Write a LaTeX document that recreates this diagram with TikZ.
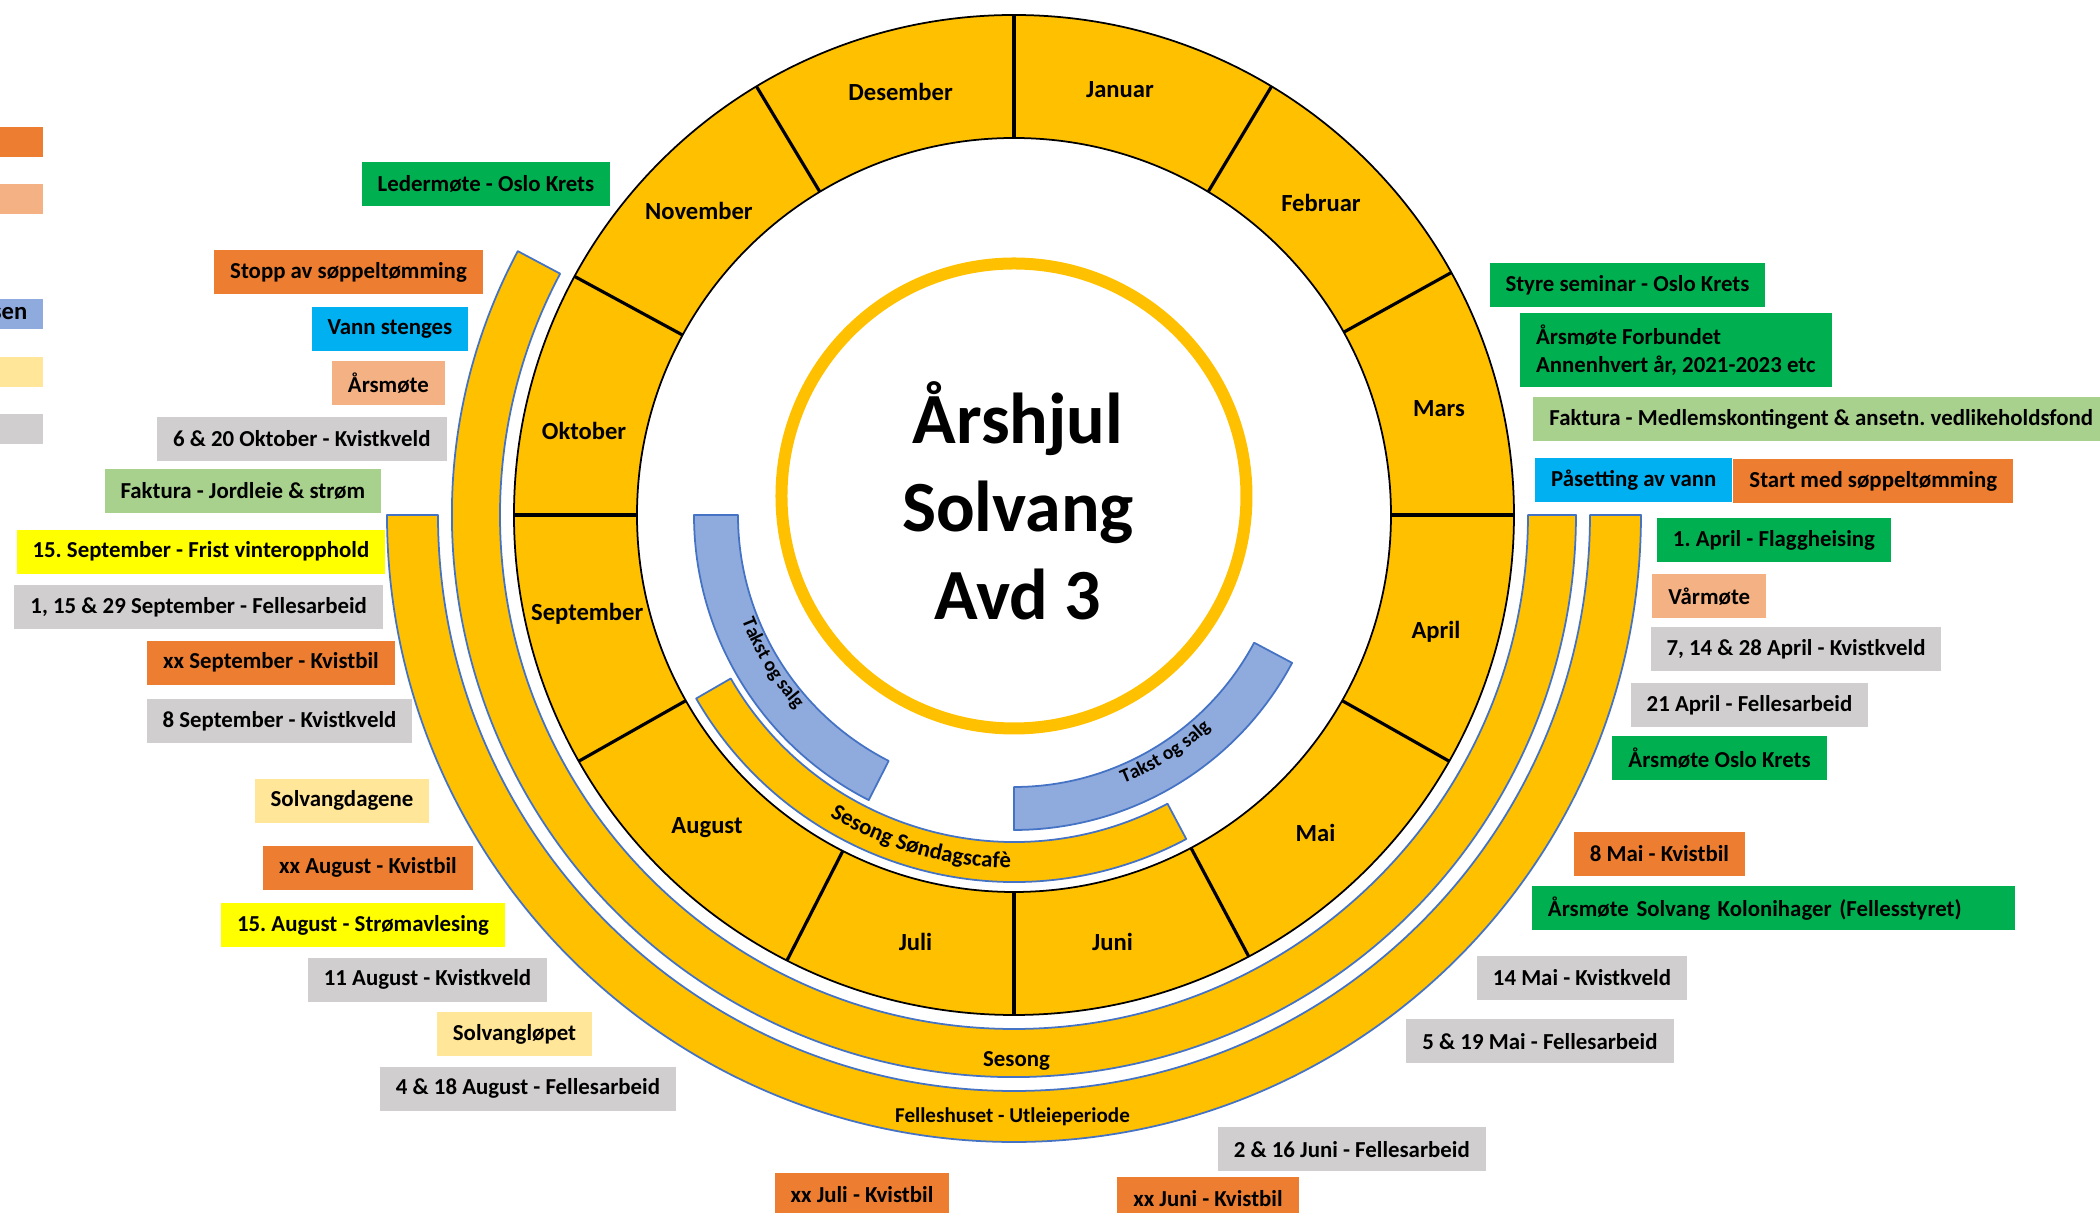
\documentclass[tikz,border=0pt]{standalone}
\usepackage{fontspec}
\setmainfont{Carlito}
\usetikzlibrary{decorations.text}
\definecolor{WheelGold}{HTML}{FFC000}
\definecolor{BandBlue}{HTML}{8FAADC}
\definecolor{BandEdge}{HTML}{4472C4}
\definecolor{EvGreen}{HTML}{00B050}
\definecolor{EvOrange}{HTML}{ED7D31}
\definecolor{EvPeach}{HTML}{F4B183}
\definecolor{EvCyan}{HTML}{00B0F0}
\definecolor{EvLime}{HTML}{A9D18E}
\definecolor{EvYellow}{HTML}{FFFF00}
\definecolor{EvGray}{HTML}{D0CECE}
\definecolor{EvCream}{HTML}{FFE699}
\frenchspacing

\begin{document}
\begin{tikzpicture}[line join=round,
  evt/.style={font=\fontsize{6.5}{8.2}\selectfont\bfseries,inner xsep=0.16cm,inner ysep=0pt,minimum height=0.44cm},
  month/.style={font=\fontsize{7}{8}\selectfont\bfseries},
  band/.style={fill=WheelGold,draw=BandEdge,line width=0.5pt},
  takst/.style={fill=BandBlue,draw=BandEdge,line width=0.5pt},
  arctext/.style={decorate,decoration={text along path,text align=center,#1}}]
  \clip (-10.14,-6.98) rectangle (10.86,5.15);
  % legend, cut at the left edge
  \fill[EvOrange] (-10.3,3.58) rectangle (-9.71,3.88);
  \fill[EvPeach] (-10.3,3.01) rectangle (-9.71,3.31);
  \fill[BandBlue] (-10.3,1.86) rectangle (-9.71,2.16);
  \fill[EvCream] (-10.3,1.28) rectangle (-9.71,1.58);
  \fill[EvGray] (-10.3,0.71) rectangle (-9.71,1.01);
  \node[font=\fontsize{7}{8}\selectfont\bfseries,anchor=east,inner sep=0pt] (legsen) at (-9.86,2.01) {sen};
  % outer periods
  \draw[band] (180:6.27) arc[start angle=180,end angle=360,radius=6.27] -- (0:5.76) arc[start angle=360,end angle=180,radius=5.76] -- cycle;
  \draw[band] (152:5.62) arc[start angle=152,end angle=360,radius=5.62] -- (0:5.14) arc[start angle=360,end angle=152,radius=5.14] -- cycle;
  \node[font=\fontsize{6.5}{8}\selectfont\bfseries] (sesong) at (0.025,-5.46) {Sesong};
  \node[font=\fontsize{6}{7}\selectfont\bfseries] (felles) at (-0.015,-6.02) {Felleshuset - Utleieperiode};
  % month ring
  \draw[fill=WheelGold,even odd rule,line width=0.5pt] (0,0) circle (5.0) (0,0) circle (3.77);
  \foreach \a in {90,59,29,0,-29.5,-62,-90,-117,-150.5,180,151.5,121}
    \draw[line width=0.9pt] (\a:3.77) -- (\a:5.0);
  \foreach \m/\a in {Januar/76,Februar/45.5,Mars/14,April/-15.5,Mai/-46.5,Juni/-77,Juli/-103,August/-134.5,September/-167,Oktober/169,November/136,Desember/105}
    \node[month] (\m) at (\a:4.38) {\m};
  % inner periods
  \draw[band] (210:3.67) arc[start angle=210,end angle=298,radius=3.67] -- (298:3.27) arc[start angle=298,end angle=210,radius=3.27] -- cycle;
  \path[arctext={text={|\fontsize{6.5}{8}\selectfont\bfseries|Sesong Søndagscafè}}] (210:3.53) arc[start angle=210,end angle=298,radius=3.53];
  \draw[takst] (180:3.2) arc[start angle=180,end angle=243,radius=3.2] -- (243:2.76) arc[start angle=243,end angle=180,radius=2.76] -- cycle;
  \draw[takst] (-90:3.15) arc[start angle=-90,end angle=-28,radius=3.15] -- (-28:2.72) arc[start angle=-28,end angle=-90,radius=2.72] -- cycle;
  \path[arctext={text={|\fontsize{5.6}{6}\selectfont\bfseries|Takst og salg}}] (180:2.92) arc[start angle=180,end angle=243,radius=2.92];
  \path[arctext={text={|\fontsize{5.6}{6}\selectfont\bfseries|Takst og salg}}] (-90:2.9) arc[start angle=-90,end angle=-25,radius=2.9];
  % centre
  \draw[WheelGold,line width=0.12cm] (0,0.19) circle (2.325);
  \node[font=\fontsize{20.5}{25}\selectfont\bfseries,align=center] (title) at (0.04,0.14) {Årshjul\\Solvang\\Avd 3};
  % autumn side
  \node[evt,fill=EvGreen] (led) at (-5.28,3.31) {Ledermøte - Oslo Krets};
  \node[evt,fill=EvOrange] (stopp) at (-6.655,2.43) {Stopp av søppeltømming};
  \node[evt,fill=EvCyan] (vann) at (-6.24,1.855) {Vann stenges};
  \node[evt,fill=EvPeach] (arsm) at (-6.256,1.32) {Årsmøte};
  \node[evt,fill=EvGray] (okt6) at (-7.122,0.762) {6 \& 20 Oktober - Kvistkveld};
  \node[evt,fill=EvLime] (jord) at (-7.711,0.242) {Faktura - Jordleie \& strøm};
  \node[evt,fill=EvYellow] (sep15) at (-8.131,-0.366) {15. September - Frist vinteropphold};
  \node[evt,fill=EvGray] (sep1) at (-8.153,-0.925) {1, 15 \& 29 September - Fellesarbeid};
  \node[evt,fill=EvOrange] (sepkb) at (-7.43,-1.477) {xx September - Kvistbil};
  \node[evt,fill=EvGray] (sep8) at (-7.345,-2.06) {8 September - Kvistkveld};
  \node[evt,fill=EvCream] (sdag) at (-6.72,-2.857) {Solvangdagene};
  \node[evt,fill=EvOrange] (augkb) at (-6.46,-3.527) {xx August - Kvistbil};
  \node[evt,fill=EvYellow] (aug15) at (-6.51,-4.104) {15. August - Strømavlesing};
  \node[evt,fill=EvGray] (aug11) at (-5.865,-4.648) {11 August - Kvistkveld};
  \node[evt,fill=EvCream] (sloep) at (-4.995,-5.193) {Solvangløpet};
  \node[evt,fill=EvGray] (aug4) at (-4.86,-5.736) {4 \& 18 August - Fellesarbeid};
  \node[evt,fill=EvOrange] (julkb) at (-1.52,-6.80) {xx Juli - Kvistbil};
  % spring side
  \node[evt,fill=EvGreen] (styre) at (6.135,2.295) {Styre seminar - Oslo Krets};
  \node[evt,fill=EvGreen,align=left,minimum height=0.735cm] (forb) at (6.618,1.648) {Årsmøte Forbundet\\Annenhvert år, 2021-2023 etc};
  \node[evt,fill=EvLime,anchor=west] (kont) at (5.188,0.96) {Faktura - Medlemskontingent \& ansetn. vedlikeholdsfond};
  \node[evt,fill=EvCyan] (paas) at (6.198,0.352) {Påsetting av vann};
  \node[evt,fill=EvOrange] (startsop) at (8.593,0.338) {Start med søppeltømming};
  \node[evt,fill=EvGreen] (flagg) at (7.60,-0.254) {1. April - Flaggheising};
  \node[evt,fill=EvPeach] (varm) at (6.953,-0.813) {Vårmøte};
  \node[evt,fill=EvGray] (apr7) at (7.82,-1.345) {7, 14 \& 28 April - Kvistkveld};
  \node[evt,fill=EvGray] (apr21) at (7.355,-1.898) {21 April - Fellesarbeid};
  \node[evt,fill=EvGreen] (oslo) at (7.056,-2.435) {Årsmøte Oslo Krets};
  \node[evt,fill=EvOrange] (mai8) at (6.454,-3.388) {8 Mai - Kvistbil};
  \node[evt,fill=EvGreen,text width=4.51cm,align=left] (fstyre) at (7.595,-3.932) {Årsmøte Solvang Kolonihager (Fellesstyret)};
  \node[evt,fill=EvGray] (mai14) at (5.68,-4.63) {14 Mai - Kvistkveld};
  \node[evt,fill=EvGray] (mai5) at (5.26,-5.265) {5 \& 19 Mai - Fellesarbeid};
  \node[evt,fill=EvGray] (jun2) at (3.378,-6.343) {2 \& 16 Juni - Fellesarbeid};
  \node[evt,fill=EvOrange] (junkb) at (1.94,-6.84) {xx Juni - Kvistbil};
\end{tikzpicture}
\end{document}
